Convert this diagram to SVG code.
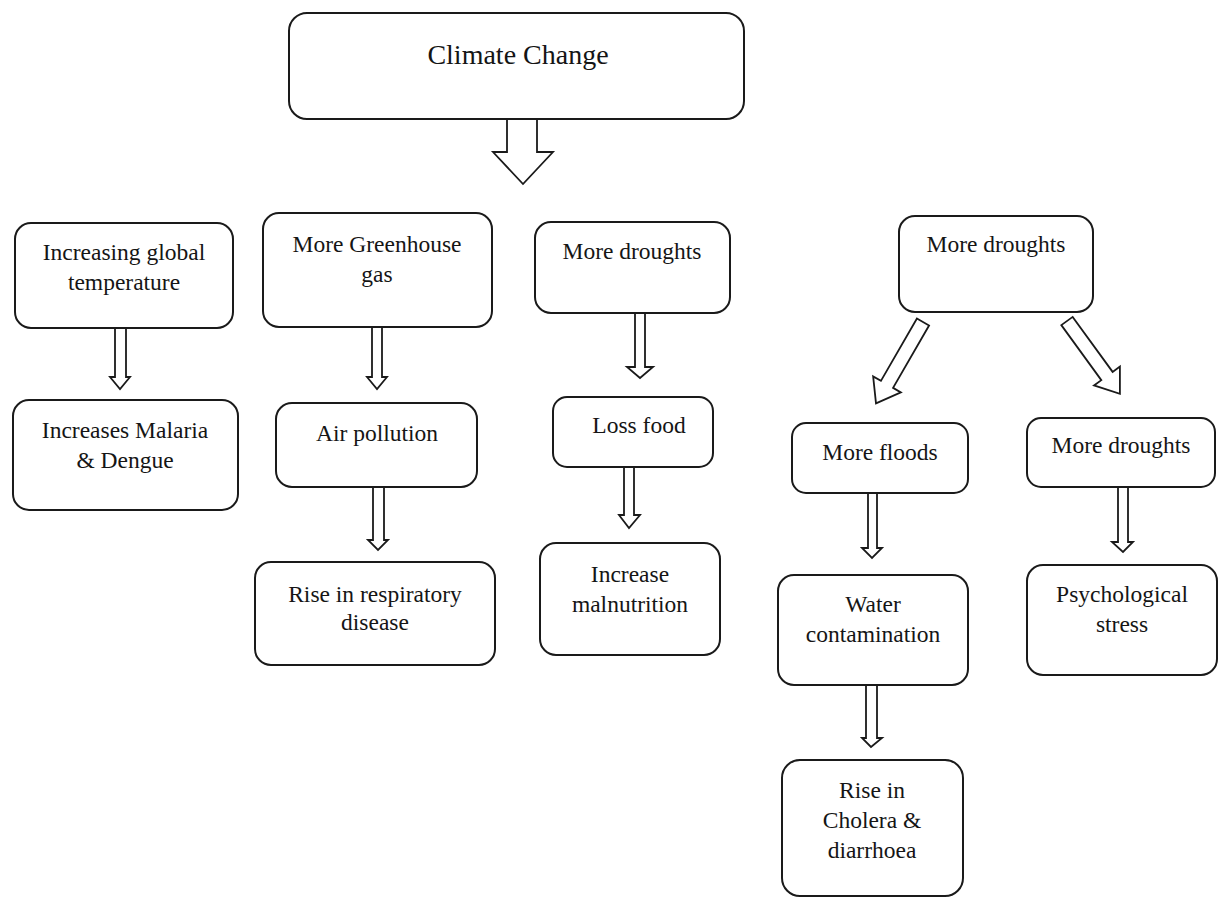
<svg xmlns="http://www.w3.org/2000/svg" width="1226" height="898" viewBox="0 0 1226 898">
<style>
.box{fill:#fff;stroke:#1a1a1a;stroke-width:2}
.t{font-family:"Liberation Serif","Times New Roman",serif;font-size:23.5px;fill:#151515;text-anchor:middle}
.big{font-size:28px}
.arr{fill:#fff;stroke:#1a1a1a;stroke-width:1.8;stroke-linejoin:miter}
</style>
<rect width="1226" height="898" fill="#fff"/>
<g id="connectors">
<path class="arr" d="M507,119 L537,119 L537,152 L553,152 L523,184 L493,152 L507,152 Z"/>
<path class="arr" d="M115,328 L126,328 L126,377 L130,377 L120,389 L110,377 L115,377 Z"/>
<path class="arr" d="M372,327 L382,327 L382,377 L387,377 L377,389 L367,377 L372,377 Z"/>
<path class="arr" d="M373,487 L384,487 L384,540 L388,540 L378,550 L368,540 L373,540 Z"/>
<path class="arr" d="M635,313 L645,313 L645,367 L653,367 L640,378 L627,367 L635,367 Z"/>
<path class="arr" d="M624,467 L634,467 L634,515 L640,515 L629,528 L619,515 L624,515 Z"/>
<path class="arr" d="M868,493 L877,493 L877,548 L882,548 L872,558 L862,548 L868,548 Z"/>
<path class="arr" d="M1118,487 L1128,487 L1128,542 L1133,542 L1123,552 L1112,542 L1118,542 Z"/>
<path class="arr" d="M866,685 L877,685 L877,738 L882,738 L871,747 L862,738 L866,738 Z"/>
<path class="arr" transform="translate(923,322) rotate(30)" d="M-7,0 L7,0 L7,72 L16,72 L0,94 L-16,72 L-7,72 Z"/>
<path class="arr" transform="translate(1067,321) rotate(-36)" d="M-7,0 L7,0 L7,68 L16,68 L0,90 L-16,68 L-7,68 Z"/>
</g>
<g id="climate-change">
<rect class="box" x="289" y="13" width="455" height="106" rx="18"/>
<text class="t big" x="518" y="64">Climate Change</text>
</g>
<g id="global-temp">
<rect class="box" x="15" y="223" width="218" height="105" rx="16"/>
<text class="t" x="124" y="260">Increasing global</text>
<text class="t" x="124" y="290">temperature</text>
</g>
<g id="malaria">
<rect class="box" x="13" y="400" width="225" height="110" rx="16"/>
<text class="t" x="125" y="438">Increases Malaria</text>
<text class="t" x="125" y="468">&amp; Dengue</text>
</g>
<g id="greenhouse">
<rect class="box" x="263" y="213" width="229" height="114" rx="16"/>
<text class="t" x="377" y="252">More Greenhouse</text>
<text class="t" x="377" y="282">gas</text>
</g>
<g id="air-pollution">
<rect class="box" x="276" y="403" width="201" height="84" rx="16"/>
<text class="t" x="377" y="441">Air pollution</text>
</g>
<g id="respiratory">
<rect class="box" x="255" y="562" width="240" height="103" rx="16"/>
<text class="t" x="375" y="602">Rise in respiratory</text>
<text class="t" x="375" y="630">disease</text>
</g>
<g id="droughts-1">
<rect class="box" x="535" y="222" width="195" height="91" rx="16"/>
<text class="t" x="632" y="259">More droughts</text>
</g>
<g id="loss-food">
<rect class="box" x="553" y="397" width="160" height="70" rx="14"/>
<text class="t" x="639" y="433">Loss food</text>
</g>
<g id="malnutrition">
<rect class="box" x="540" y="543" width="180" height="112" rx="16"/>
<text class="t" x="630" y="582">Increase</text>
<text class="t" x="630" y="612">malnutrition</text>
</g>
<g id="droughts-2">
<rect class="box" x="899" y="216" width="194" height="96" rx="16"/>
<text class="t" x="996" y="252">More droughts</text>
</g>
<g id="floods">
<rect class="box" x="792" y="423" width="176" height="70" rx="14"/>
<text class="t" x="880" y="460">More floods</text>
</g>
<g id="droughts-3">
<rect class="box" x="1027" y="418" width="188" height="69" rx="14"/>
<text class="t" x="1121" y="453">More droughts</text>
</g>
<g id="water">
<rect class="box" x="778" y="575" width="190" height="110" rx="16"/>
<text class="t" x="873" y="612">Water</text>
<text class="t" x="873" y="642">contamination</text>
</g>
<g id="psych">
<rect class="box" x="1027" y="565" width="190" height="110" rx="16"/>
<text class="t" x="1122" y="602">Psychological</text>
<text class="t" x="1122" y="632">stress</text>
</g>
<g id="cholera">
<rect class="box" x="782" y="760" width="181" height="136" rx="18"/>
<text class="t" x="872" y="798">Rise in</text>
<text class="t" x="872" y="828">Cholera &amp;</text>
<text class="t" x="872" y="858">diarrhoea</text>
</g>
</svg>
